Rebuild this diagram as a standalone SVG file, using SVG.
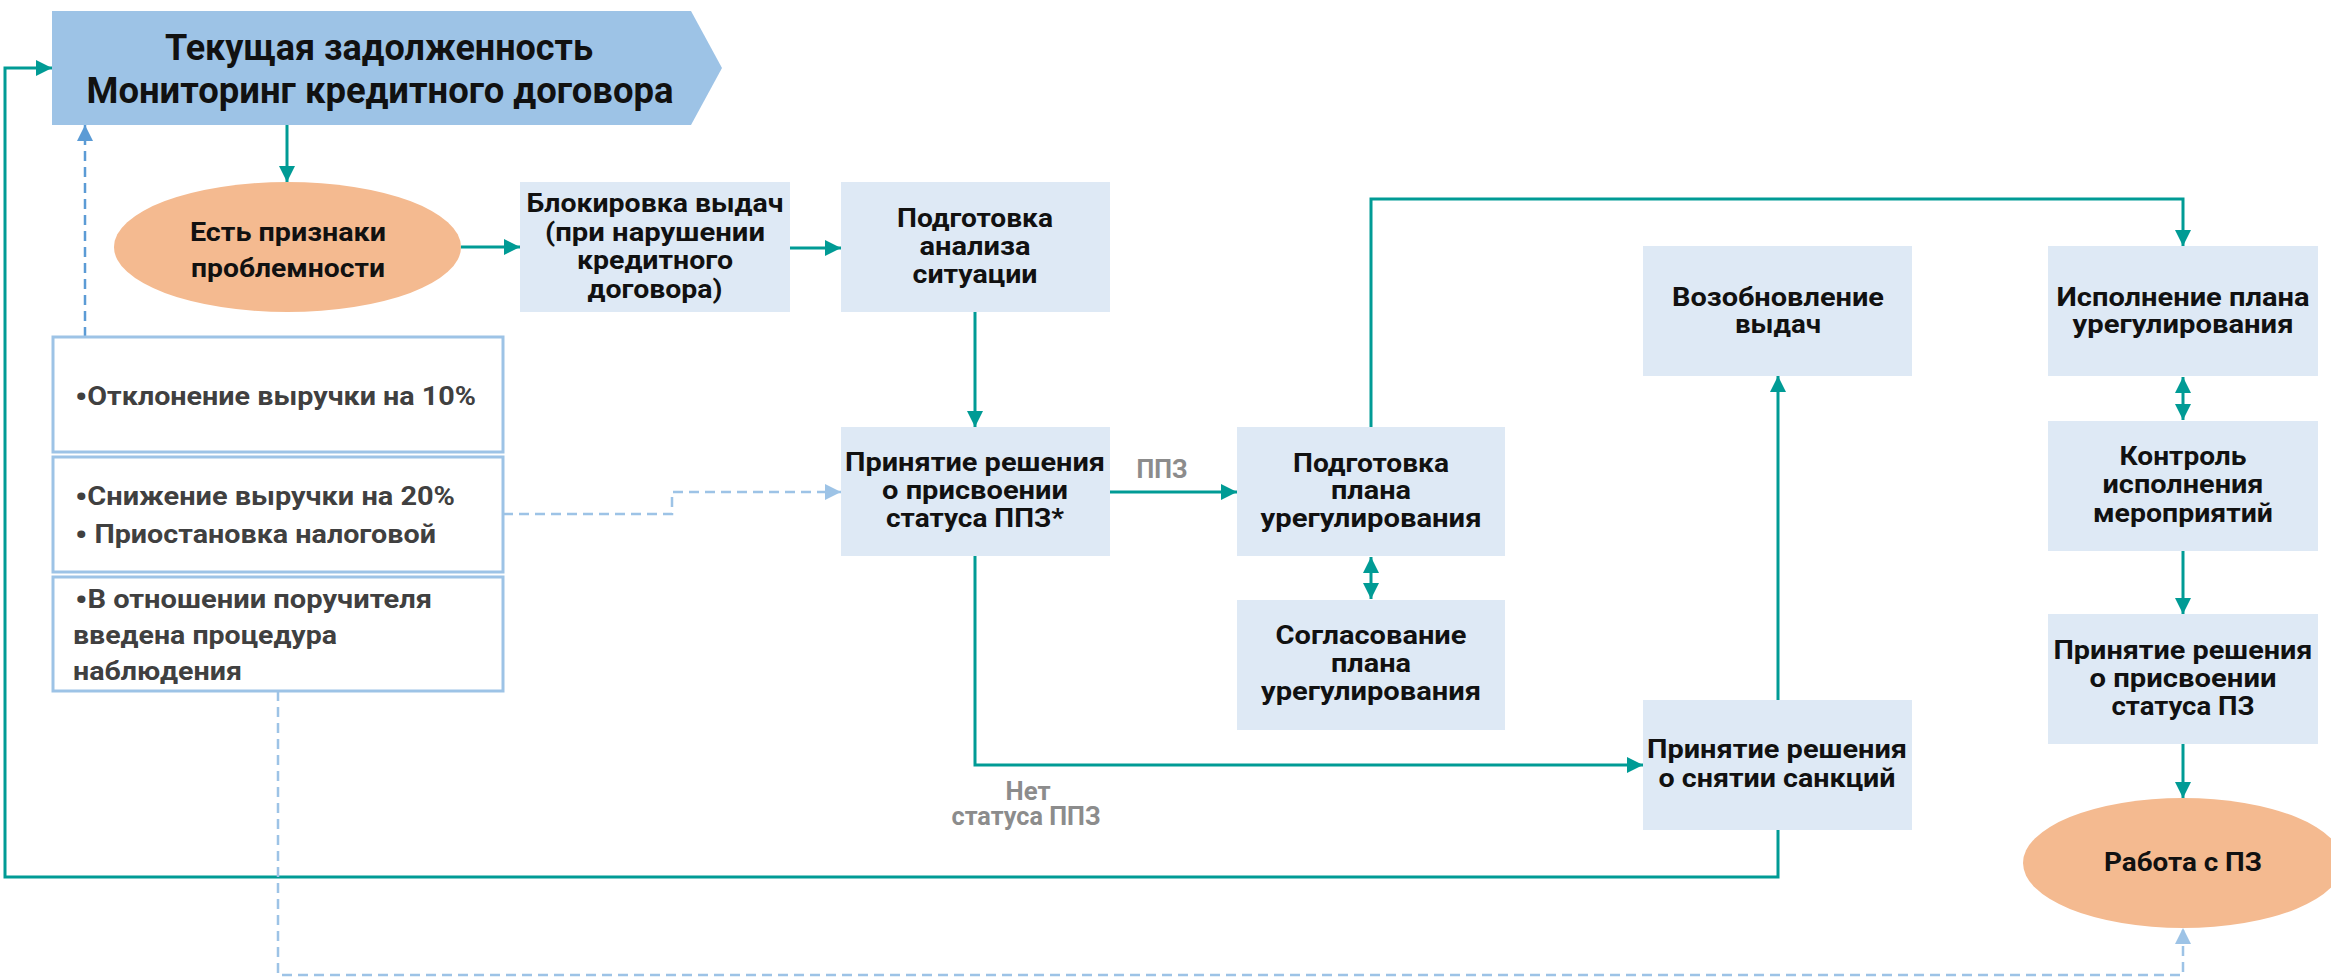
<svg xmlns="http://www.w3.org/2000/svg" width="2331" height="978" viewBox="0 0 2331 978">
<style>
  .t { font-family: Roboto, "Liberation Sans", "DejaVu Sans", sans-serif; font-weight: bold; fill: #111; font-size: 25px; text-anchor: middle; }
  .h { font-size: 36px; }
  .c { font-family: Roboto, "Liberation Sans", "DejaVu Sans", sans-serif; font-weight: bold; fill: #404040; font-size: 26px; }
  .b { font-size: 31px; }
  .g { fill: #8C8C8C; }
  .box { fill: #DEE9F5; }
  .crit { fill: #FFFFFF; stroke: #9DC3E6; stroke-width: 3; }
  .ell { fill: #F4BA90; }
  .tl { fill: none; stroke: #009B95; stroke-width: 3; }
  .dl { fill: none; stroke: #9DC3E6; stroke-width: 2.5; stroke-dasharray: 10 6; }
  .db { fill: none; stroke: #5B9BD5; stroke-width: 2.5; stroke-dasharray: 10 6; }
</style>
<defs>
  <marker id="at" markerUnits="userSpaceOnUse" viewBox="0 0 16 16" markerWidth="16" markerHeight="16" refX="16" refY="8" orient="auto-start-reverse">
    <path d="M0,0 L16,8 L0,16 z" fill="#009B95"/>
  </marker>
  <marker id="al" markerUnits="userSpaceOnUse" viewBox="0 0 16 16" markerWidth="16" markerHeight="16" refX="16" refY="8" orient="auto">
    <path d="M0,0 L16,8 L0,16 z" fill="#9DC3E6"/>
  </marker>
  <marker id="ab" markerUnits="userSpaceOnUse" viewBox="0 0 16 16" markerWidth="16" markerHeight="16" refX="16" refY="8" orient="auto">
    <path d="M0,0 L16,8 L0,16 z" fill="#5B9BD5"/>
  </marker>
</defs>

<g id="connectors">
  <path class="tl" d="M287,125 L287,182" marker-end="url(#at)"/>
  <path class="tl" d="M461,247 L520,247" marker-end="url(#at)"/>
  <path class="tl" d="M790,248 L841,248" marker-end="url(#at)"/>
  <path class="tl" d="M975,312 L975,427" marker-end="url(#at)"/>
  <path class="tl" d="M1110,492 L1237,492" marker-end="url(#at)"/>
  <path class="tl" d="M1371,557 L1371,599" marker-start="url(#at)" marker-end="url(#at)"/>
  <path class="tl" d="M1371,427 L1371,199 L2183,199 L2183,246" marker-end="url(#at)"/>
  <path class="tl" d="M2183,377 L2183,420" marker-start="url(#at)" marker-end="url(#at)"/>
  <path class="tl" d="M2183,551 L2183,614" marker-end="url(#at)"/>
  <path class="tl" d="M2183,744 L2183,798" marker-end="url(#at)"/>
  <path class="tl" d="M975,556 L975,765 L1643,765" marker-end="url(#at)"/>
  <path class="tl" d="M1778,700 L1778,376" marker-end="url(#at)"/>
  <path class="tl" d="M1778,830 L1778,877 L5,877 L5,68 L52,68" marker-end="url(#at)"/>
  <path class="db" d="M85,337 L85,125" marker-end="url(#ab)"/>
  <path class="dl" d="M503,514 L672,514 L672,492 L841,492" marker-end="url(#al)"/>
  <path class="dl" d="M278,691 L278,975 L2183,975 L2183,928" marker-end="url(#al)"/>
  <text class="t g" x="1162" y="478" textLength="51" lengthAdjust="spacingAndGlyphs">ППЗ</text>
  <text class="t g" x="1028" y="800" textLength="45" lengthAdjust="spacingAndGlyphs">Нет</text>
  <text class="t g" x="1026" y="825" textLength="149" lengthAdjust="spacingAndGlyphs">статуса ППЗ</text>
</g>

<g id="header">
  <polygon points="52,11 691,11 722,68 691,125 52,125" fill="#9DC3E6"/>
  <text class="t h" x="379" y="60" textLength="428" lengthAdjust="spacingAndGlyphs">Текущая задолженность</text>
  <text class="t h" x="380" y="103" textLength="587" lengthAdjust="spacingAndGlyphs">Мониторинг кредитного договора</text>
</g>

<g id="problem">
  <ellipse class="ell" cx="287.5" cy="247" rx="173.5" ry="65"/>
  <text class="t" x="288" y="241" textLength="196" lengthAdjust="spacingAndGlyphs">Есть признаки</text>
  <text class="t" x="288" y="277" textLength="194" lengthAdjust="spacingAndGlyphs">проблемности</text>
</g>

<g id="crit1">
  <rect class="crit" x="53" y="337" width="450" height="115"/>
  <text class="c" x="75" y="405" textLength="401" lengthAdjust="spacingAndGlyphs"><tspan class="b" dy="3">•</tspan><tspan dy="-3">Отклонение выручки на 10%</tspan></text>
</g>
<g id="crit2">
  <rect class="crit" x="53" y="457" width="450" height="115"/>
  <text class="c" x="75" y="505" textLength="380" lengthAdjust="spacingAndGlyphs"><tspan class="b" dy="3">•</tspan><tspan dy="-3">Снижение выручки на 20%</tspan></text>
  <text class="c" x="75" y="543" textLength="361" lengthAdjust="spacingAndGlyphs"><tspan class="b" dy="3">•</tspan><tspan dy="-3"> Приостановка налоговой</tspan></text>
</g>
<g id="crit3">
  <rect class="crit" x="53" y="577" width="450" height="114"/>
  <text class="c" x="75" y="608" textLength="357" lengthAdjust="spacingAndGlyphs"><tspan class="b" dy="3">•</tspan><tspan dy="-3">В отношении поручителя</tspan></text>
  <text class="c" x="73" y="644" textLength="264" lengthAdjust="spacingAndGlyphs">введена процедура</text>
  <text class="c" x="73" y="680" textLength="169" lengthAdjust="spacingAndGlyphs">наблюдения</text>
</g>

<g id="blok">
  <rect class="box" x="520" y="182" width="270" height="130"/>
  <text class="t" x="655" y="212" textLength="257" lengthAdjust="spacingAndGlyphs">Блокировка выдач</text>
  <text class="t" x="655" y="241" textLength="220" lengthAdjust="spacingAndGlyphs">(при нарушении</text>
  <text class="t" x="655" y="269" textLength="156" lengthAdjust="spacingAndGlyphs">кредитного</text>
  <text class="t" x="655" y="298" textLength="135" lengthAdjust="spacingAndGlyphs">договора)</text>
</g>

<g id="analiz">
  <rect class="box" x="841" y="182" width="269" height="130"/>
  <text class="t" x="975" y="227" textLength="156" lengthAdjust="spacingAndGlyphs">Подготовка</text>
  <text class="t" x="975" y="255" textLength="111" lengthAdjust="spacingAndGlyphs">анализа</text>
  <text class="t" x="975" y="283" textLength="125" lengthAdjust="spacingAndGlyphs">ситуации</text>
</g>

<g id="ppz">
  <rect class="box" x="841" y="427" width="269" height="129"/>
  <text class="t" x="975" y="471" textLength="260" lengthAdjust="spacingAndGlyphs">Принятие решения</text>
  <text class="t" x="975" y="499" textLength="186" lengthAdjust="spacingAndGlyphs">о присвоении</text>
  <text class="t" x="975" y="527" textLength="178" lengthAdjust="spacingAndGlyphs">статуса ППЗ*</text>
</g>

<g id="plan">
  <rect class="box" x="1237" y="427" width="268" height="129"/>
  <text class="t" x="1371" y="472" textLength="156" lengthAdjust="spacingAndGlyphs">Подготовка</text>
  <text class="t" x="1371" y="499" textLength="80" lengthAdjust="spacingAndGlyphs">плана</text>
  <text class="t" x="1371" y="527" textLength="221" lengthAdjust="spacingAndGlyphs">урегулирования</text>
</g>

<g id="soglas">
  <rect class="box" x="1237" y="600" width="268" height="130"/>
  <text class="t" x="1371" y="644" textLength="191" lengthAdjust="spacingAndGlyphs">Согласование</text>
  <text class="t" x="1371" y="672" textLength="80" lengthAdjust="spacingAndGlyphs">плана</text>
  <text class="t" x="1371" y="700" textLength="220" lengthAdjust="spacingAndGlyphs">урегулирования</text>
</g>

<g id="vozob">
  <rect class="box" x="1643" y="246" width="269" height="130"/>
  <text class="t" x="1778" y="306" textLength="212" lengthAdjust="spacingAndGlyphs">Возобновление</text>
  <text class="t" x="1778" y="333" textLength="86" lengthAdjust="spacingAndGlyphs">выдач</text>
</g>

<g id="snyat">
  <rect class="box" x="1643" y="700" width="269" height="130"/>
  <text class="t" x="1777" y="758" textLength="260" lengthAdjust="spacingAndGlyphs">Принятие решения</text>
  <text class="t" x="1777" y="787" textLength="237" lengthAdjust="spacingAndGlyphs">о снятии санкций</text>
</g>

<g id="ispoln">
  <rect class="box" x="2048" y="246" width="270" height="130"/>
  <text class="t" x="2183" y="306" textLength="253" lengthAdjust="spacingAndGlyphs">Исполнение плана</text>
  <text class="t" x="2183" y="333" textLength="221" lengthAdjust="spacingAndGlyphs">урегулирования</text>
</g>

<g id="kontrol">
  <rect class="box" x="2048" y="421" width="270" height="130"/>
  <text class="t" x="2183" y="465" textLength="127" lengthAdjust="spacingAndGlyphs">Контроль</text>
  <text class="t" x="2183" y="493" textLength="161" lengthAdjust="spacingAndGlyphs">исполнения</text>
  <text class="t" x="2183" y="522" textLength="180" lengthAdjust="spacingAndGlyphs">мероприятий</text>
</g>

<g id="pz">
  <rect class="box" x="2048" y="614" width="270" height="130"/>
  <text class="t" x="2183" y="659" textLength="259" lengthAdjust="spacingAndGlyphs">Принятие решения</text>
  <text class="t" x="2183" y="687" textLength="187" lengthAdjust="spacingAndGlyphs">о присвоении</text>
  <text class="t" x="2183" y="715" textLength="143" lengthAdjust="spacingAndGlyphs">статуса ПЗ</text>
</g>

<g id="rabota">
  <ellipse class="ell" cx="2183" cy="863" rx="160" ry="65"/>
  <text class="t" x="2183" y="871" textLength="158" lengthAdjust="spacingAndGlyphs">Работа с ПЗ</text>
</g>
</svg>
